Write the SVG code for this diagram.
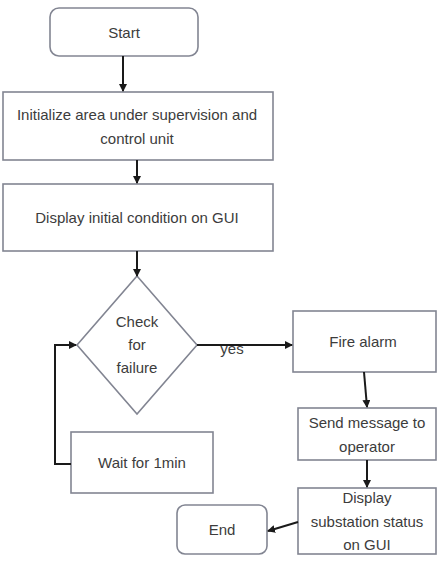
<svg xmlns="http://www.w3.org/2000/svg" width="441" height="575" viewBox="0 0 441 575">
<defs>
<marker id="ah" markerWidth="8" markerHeight="8" refX="7" refY="4" orient="auto" markerUnits="userSpaceOnUse">
<path d="M0,0 L8,4 L0,8 Z" fill="#1a1a1a"/>
</marker>
<style>
.box{fill:#fff;stroke:#828592;stroke-width:1.6}
.t{font-family:"Liberation Sans",Arial,sans-serif;font-size:15px;fill:#3c3c3c;text-anchor:middle}
.c{fill:none;stroke:#1a1a1a;stroke-width:2}
</style>
</defs>
<rect width="441" height="575" fill="#fff"/>
<g id="start"><rect class="box" x="50" y="8" width="148" height="48" rx="9"/><text class="t" x="124" y="38">Start</text></g>
<g id="init"><rect class="box" x="3" y="92" width="270" height="68"/><text class="t" x="137" y="120">Initialize area under supervision and</text><text class="t" x="137" y="144">control unit</text></g>
<g id="display"><rect class="box" x="3" y="184" width="270" height="67"/><text class="t" x="137" y="223">Display initial condition on GUI</text></g>
<g id="check"><polygon class="box" points="137,276 197,345 137,414 77,345"/><text class="t" x="137" y="327">Check</text><text class="t" x="137" y="350">for</text><text class="t" x="137" y="373">failure</text></g>
<g id="fire"><rect class="box" x="293" y="311" width="143" height="61"/><text class="t" x="363" y="347">Fire alarm</text></g>
<g id="send"><rect class="box" x="298" y="408" width="138" height="52"/><text class="t" x="367" y="428">Send message to</text><text class="t" x="367" y="452">operator</text></g>
<g id="status"><rect class="box" x="298" y="488" width="138" height="66"/><text class="t" x="367" y="503">Display</text><text class="t" x="367" y="527">substation status</text><text class="t" x="367" y="550">on GUI</text></g>
<g id="end"><rect class="box" x="177" y="505" width="90" height="49" rx="8"/><text class="t" x="222" y="535">End</text></g>
<g id="wait"><rect class="box" x="71" y="432" width="142" height="61"/><text class="t" x="142" y="468">Wait for 1min</text></g>
<g id="connectors">
<text class="t" x="232" y="354">yes</text>
<line class="c" x1="197" y1="345" x2="292" y2="345" marker-end="url(#ah)"/>
<line class="c" x1="123" y1="56" x2="123" y2="91" marker-end="url(#ah)"/>
<line class="c" x1="137" y1="160" x2="137" y2="183" marker-end="url(#ah)"/>
<line class="c" x1="137" y1="251" x2="137" y2="276" marker-end="url(#ah)"/>
<line class="c" x1="364" y1="372" x2="367" y2="407" marker-end="url(#ah)"/>
<line class="c" x1="367" y1="460" x2="367" y2="487" marker-end="url(#ah)"/>
<line class="c" x1="298" y1="522" x2="268" y2="531" marker-end="url(#ah)"/>
<polyline class="c" points="71,464 55,464 55,345 76,345" marker-end="url(#ah)"/>
</g>
</svg>
